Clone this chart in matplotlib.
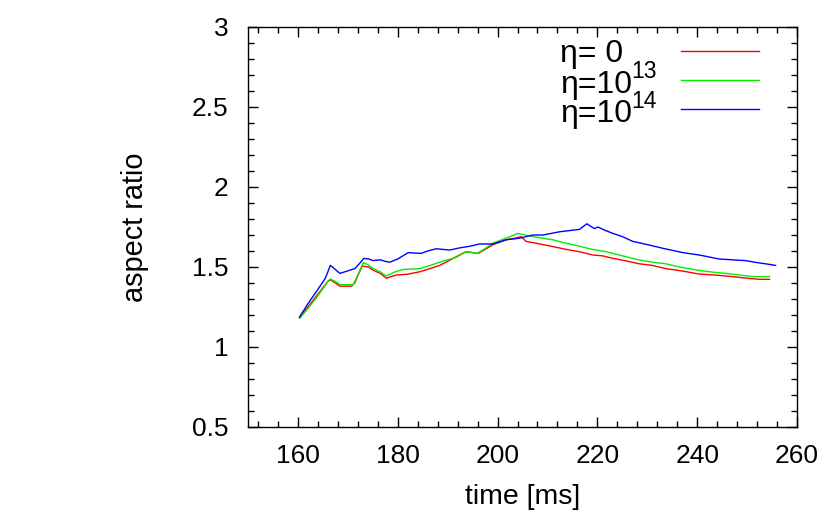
import matplotlib
matplotlib.use("Agg")
import matplotlib.pyplot as plt
from matplotlib.ticker import MultipleLocator

plt.rcParams["font.family"] = ["Liberation Sans", "DejaVu Sans"]

# eta = 0
t_red = [160.4, 162.0, 164.0, 166.0, 166.5, 167.5, 168.4, 170.0, 170.7, 171.4, 172.2, 172.9,
         174.1, 175.1, 176.5, 177.7, 179.7, 182.0, 184.4, 186.5, 188.4, 190.0, 191.7, 193.7,
         196.1, 197.5, 199.1, 201.7, 203.5, 204.7, 205.7, 207.5, 209.1, 211.5, 213.7, 216.5,
         219.1, 221.0, 223.1, 225.5, 228.4, 231.0, 233.7, 237.0, 240.4, 243.5, 247.1, 250.0,
         252.4, 254.5]
ar_red = [1.19, 1.25, 1.33, 1.41, 1.42, 1.40, 1.38, 1.38, 1.38, 1.40, 1.46, 1.506,
          1.50, 1.48, 1.46, 1.43, 1.45, 1.455, 1.47, 1.49, 1.51, 1.535, 1.564, 1.596,
          1.585, 1.61, 1.64, 1.67, 1.68, 1.69, 1.66, 1.65, 1.64, 1.625, 1.61, 1.595,
          1.575, 1.57, 1.554, 1.54, 1.52, 1.51, 1.49, 1.475, 1.456, 1.45, 1.44, 1.43,
          1.423, 1.423]

# eta = 1e13
t_green = [160.4, 162.0, 164.0, 166.0, 166.5, 167.5, 168.4, 170.0, 171.1, 172.0, 173.1, 174.0,
           175.1, 176.5, 177.7, 179.5, 181.1, 184.4, 186.5, 188.4, 190.0, 191.7, 193.7, 195.9,
           197.5, 199.1, 201.7, 204.1, 205.5, 207.1, 209.0, 211.1, 213.5, 216.4, 219.0, 221.7,
           225.0, 228.4, 231.0, 233.7, 236.5, 239.1, 242.5, 245.7, 248.5, 251.1, 254.5]
ar_green = [1.18, 1.24, 1.32, 1.41, 1.425, 1.41, 1.39, 1.39, 1.39, 1.45, 1.527, 1.515,
            1.49, 1.47, 1.444, 1.47, 1.485, 1.49, 1.51, 1.53, 1.545, 1.56, 1.596, 1.585,
            1.615, 1.65, 1.68, 1.71, 1.70, 1.69, 1.68, 1.67, 1.65, 1.63, 1.61, 1.596,
            1.57, 1.544, 1.53, 1.52, 1.50, 1.485, 1.47, 1.46, 1.45, 1.44, 1.44]

# eta = 1e14
t_blue = [160.3, 162.0, 164.0, 165.5, 166.5, 167.3, 168.4, 170.4, 171.4, 172.3, 173.2, 174.2,
          175.1, 176.5, 177.5, 178.4, 180.0, 182.1, 184.7, 186.0, 187.7, 190.4, 192.5, 194.5,
          196.4, 199.1, 201.7, 204.4, 207.1, 209.1, 212.4, 216.4, 217.9, 219.4, 220.1, 221.5,
          223.1, 225.0, 227.1, 230.0, 233.1, 237.1, 240.4, 244.4, 247.0, 249.7, 251.5, 253.7,
          255.7]
ar_blue = [1.186, 1.27, 1.36, 1.43, 1.51, 1.49, 1.46, 1.48, 1.49, 1.52, 1.554, 1.55,
           1.54, 1.545, 1.535, 1.53, 1.55, 1.59, 1.585, 1.60, 1.614, 1.606, 1.62, 1.63,
           1.644, 1.644, 1.67, 1.68, 1.70, 1.70, 1.72, 1.735, 1.77, 1.74, 1.75, 1.73,
           1.71, 1.69, 1.66, 1.64, 1.617, 1.59, 1.575, 1.55, 1.545, 1.54, 1.53, 1.52,
           1.51]

key_base = ["η= 0", "η=10", "η=10"]
key_exp = ["", "13", "14"]
colors = ["#ff0000", "#00ee00", "#0000ff"]

W, H = 830, 515
fig = plt.figure(figsize=(8.3, 5.15), dpi=100)
ax = fig.add_axes([248 / W, 1 - 427 / H, (797 - 248) / W, 400 / H])

series = [(t_red, ar_red), (t_green, ar_green), (t_blue, ar_blue)]
for (t, ar), c in zip(series, colors):
    ax.plot(t, ar, color=c, lw=1.0)

ax.set_xlim(150, 260)
ax.set_ylim(0.5, 3)
ax.xaxis.set_minor_locator(MultipleLocator(4))
ax.yaxis.set_minor_locator(MultipleLocator(0.1))
ax.set_xticks([160, 180, 200, 220, 240, 260])
ax.set_xticklabels(["160", "180", "200", "220", "240", "260"])
ax.set_yticks([0.5, 1, 1.5, 2, 2.5, 3])
ax.set_yticklabels(["0.5", "1", "1.5", "2", "2.5", "3"])
ax.tick_params(which="both", direction="in", top=True, right=True, labelsize=19, width=1.0)
ax.tick_params(which="major", length=7)
ax.tick_params(which="minor", length=4)
ax.tick_params(axis="x", which="major", pad=12)
ax.tick_params(axis="y", which="major", pad=14)
for s in ax.spines.values():
    s.set_linewidth(1.0)

ax.set_xlabel("time [ms]", fontsize=20.5, labelpad=12)
ax.set_ylabel("aspect ratio", fontsize=20.8, labelpad=31)

# key, drawn like gnuplot's
line_y = [50.7, 80.0, 109.3]
base_y = [62.0, 92.7, 122.0]
renderer = fig.canvas.get_renderer()
for base, ex, c, ly, by in zip(key_base, key_exp, colors, line_y, base_y):
    t = fig.text(560 / W, 1 - by / H, base, fontsize=23, ha="left", va="baseline")
    if ex:
        x_end = t.get_window_extent(renderer).x1 - 1
        fig.text(x_end / W, 1 - (by - 14.4) / H, ex, fontsize=16.5, ha="left", va="baseline")
    fig.add_artist(plt.Line2D([681 / W, 759 / W], [1 - ly / H, 1 - ly / H], color=c, lw=1.0))

fig.savefig("out.png", dpi=100)
